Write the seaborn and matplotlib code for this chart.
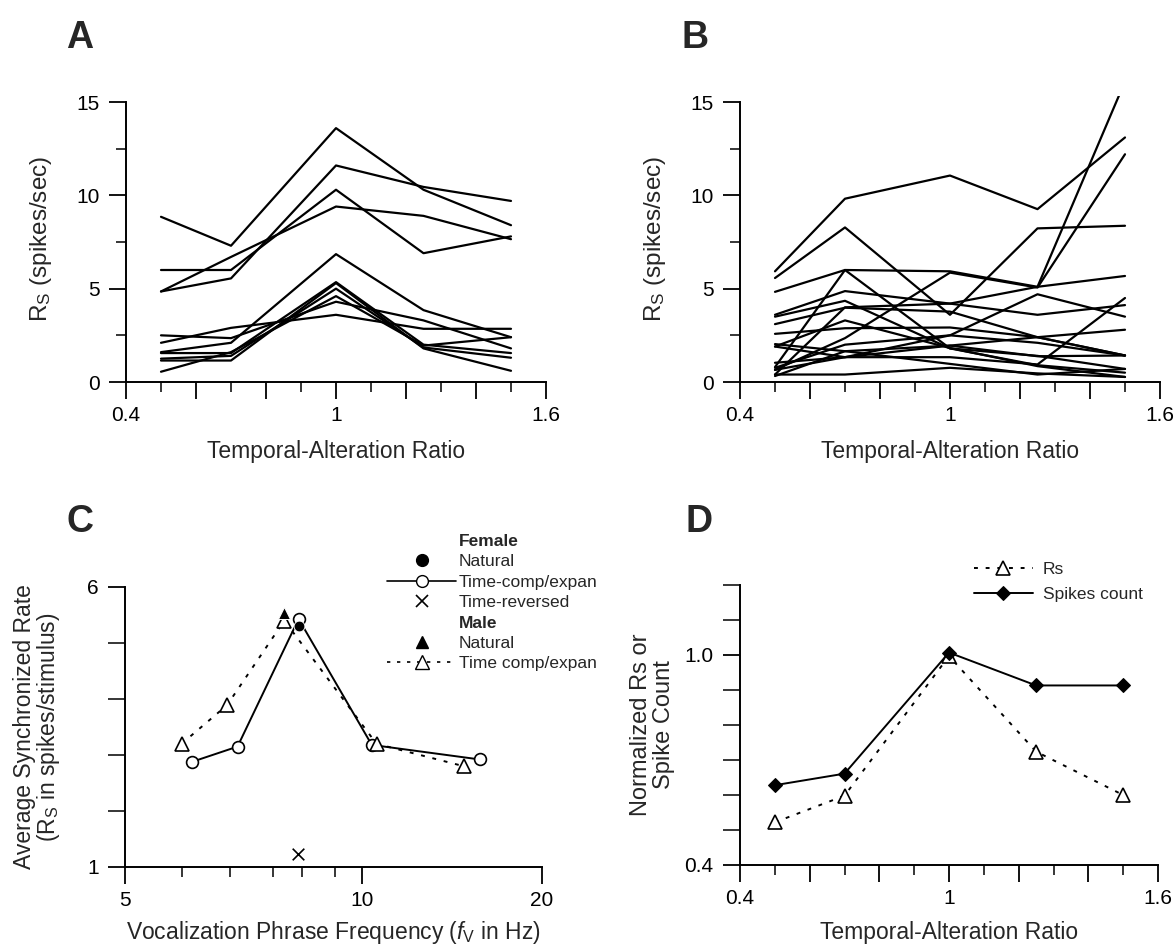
# Four-panel figure: rate vs temporal-alteration ratio (A, B),
# synchronized rate vs phrase frequency (C), normalized Rs / spike count (D)
import numpy as np
import pandas as pd
import seaborn as sns
import matplotlib
matplotlib.use("Agg")
import matplotlib.pyplot as plt
from matplotlib.lines import Line2D
from matplotlib.ticker import FixedLocator, NullFormatter, FixedFormatter

sns.set_theme(style="ticks")
plt.rcParams["font.family"] = ["Liberation Sans", "DejaVu Sans"]
plt.rcParams["mathtext.fontset"] = "custom"
plt.rcParams["mathtext.rm"] = "Liberation Sans"
plt.rcParams["mathtext.it"] = "Liberation Sans:italic"

# ---- data -------------------------------------------------------------
ratios = [0.5, 0.7, 1.0, 1.25, 1.5]

# panel A: one row per unit, Rs at each ratio
rs_a = [
    [8.85, 7.3, 13.6, 10.3, 8.4],
    [4.85, 5.55, 11.6, 10.45, 9.7],
    [6.0, 6.0, 10.3, 6.9, 7.8],
    [4.85, 6.7, 9.4, 8.9, 7.65],
    [1.6, 2.1, 6.85, 3.85, 2.4],
    [2.5, 2.35, 4.3, 3.3, 1.8],
    [2.1, 2.9, 3.6, 2.85, 2.85],
    [1.55, 1.55, 5.35, 2.0, 1.55],
    [1.25, 1.4, 5.0, 1.85, 1.3],
    [1.15, 1.15, 5.3, 1.8, 0.6],
    [0.55, 1.6, 4.6, 1.95, 2.4],
]

# panel B
rs_b = [
    [5.93, 9.82, 11.06, 9.26, 13.1],
    [5.57, 8.28, 3.6, 8.23, 8.37],
    [4.83, 6.0, 5.93, 5.1, 16.1],
    [0.65, 2.35, 5.86, 5.06, 12.2],
    [0.4, 4.0, 4.2, 5.1, 5.68],
    [3.6, 4.87, 4.2, 3.6, 4.12],
    [3.5, 4.35, 1.8, 1.4, 0.7],
    [0.8, 6.0, 1.8, 0.9, 0.5],
    [3.1, 3.98, 3.77, 2.4, 1.42],
    [2.58, 2.88, 2.92, 2.4, 2.8],
    [2.03, 1.65, 1.95, 2.4, 1.42],
    [1.9, 3.3, 1.82, 0.85, 0.27],
    [1.03, 1.33, 2.5, 4.7, 3.5],
    [0.76, 2.0, 2.5, 2.1, 1.42],
    [0.65, 1.33, 1.33, 0.94, 4.5],
    [0.4, 0.4, 0.76, 0.46, 0.27],
    [0.32, 1.65, 0.97, 0.4, 0.7],
    [1.9, 1.33, 1.95, 1.38, 1.42],
]

# panel C
fem_freq = [6.09, 6.95, 8.31, 10.39, 15.75]
fem_rs = [2.88, 3.15, 5.43, 3.18, 2.92]
fem_nat_freq = [8.31]
fem_nat_rs = [5.31]
rev_freq = [8.3]
rev_rs = [1.23]
male_freq = [5.9, 6.74, 7.97, 10.58, 14.8]
male_rs = [3.2, 3.89, 5.4, 3.2, 2.8]
male_nat_freq = [7.97]
male_nat_rs = [5.53]

# panel D
norm_rs = [0.522, 0.598, 0.997, 0.724, 0.60]
norm_count = [0.628, 0.661, 1.007, 0.913, 0.913]


def to_long(rows):
    recs = []
    for u, row in enumerate(rows):
        for r, v in zip(ratios, row):
            recs.append({"unit": u, "ratio": r, "rate": v})
    return pd.DataFrame(recs)


W, H = 1175, 948
fig = plt.figure(figsize=(W / 100, H / 100), dpi=100)
FS_TICK, FS_LAB = 15, 16.5


def add_ax(left, right, top, bottom):
    return fig.add_axes([left / W, 1 - bottom / H, (right - left) / W, (bottom - top) / H])


def letter(x, y, s):
    # x = left edge, y = baseline, in pixels from the top-left corner
    fig.text(x / W, 1 - y / H, s, fontsize=27, fontweight="bold", va="baseline")


def style_ratio_x(ax, pad):
    ax.set_xlim(0.4, 1.6)
    ax.xaxis.set_major_locator(FixedLocator([0.4, 0.6, 0.8, 1.0, 1.2, 1.4, 1.6]))
    ax.xaxis.set_major_formatter(FixedFormatter(["0.4", "", "", "1", "", "", "1.6"]))
    ax.xaxis.set_minor_locator(FixedLocator([0.5, 0.7, 0.9, 1.1, 1.3, 1.5]))
    ax.set_xlabel("Temporal-Alteration Ratio", fontsize=FS_LAB, labelpad=pad)


def common(ax):
    sns.despine(ax=ax)
    for s in ("left", "bottom"):
        ax.spines[s].set_linewidth(1.4)
        ax.spines[s].set_color("black")
    ax.tick_params(which="major", length=12, width=1.3, labelsize=FS_TICK, colors="black")
    ax.tick_params(which="minor", length=7, width=1.1, colors="black")
    ax.tick_params(axis="y", which="major", pad=7)
    ax.tick_params(axis="x", which="major", pad=5)
    ax.grid(False)


# ---- A and B ------------------------------------------------------------
YTOP = 15.3
for rows, (l, r), let, lx in ((rs_a, (126, 546), "A", 66), (rs_b, (740, 1160), "B", 681)):
    ax = add_ax(l, r, 382 - 280 * YTOP / 15, 382)
    sns.lineplot(data=to_long(rows), x="ratio", y="rate", units="unit", estimator=None,
                 color="black", lw=1.6, ax=ax, legend=False)
    style_ratio_x(ax, 11)
    ax.set_ylim(0, YTOP)
    ax.spines["left"].set_bounds(0, 15)
    ax.yaxis.set_major_locator(FixedLocator([0, 5, 10, 15]))
    ax.yaxis.set_minor_locator(FixedLocator([2.5, 7.5, 12.5]))
    ax.set_ylabel(r"R$_\mathrm{S}$ (spikes/sec)", fontsize=FS_LAB + 1, labelpad=16)
    common(ax)
    letter(lx, 48, let)

# ---- C ------------------------------------------------------------------
L5, L10 = np.log2(5), np.log2(10)


def fwd(f):
    lf = np.log2(np.clip(np.asarray(f, dtype=float), 1e-6, None))
    return np.where(lf < L10, (lf - L5) * 710.0, 710.0 + (lf - L10) * 540.0)


def inv(p):
    p = np.asarray(p, dtype=float)
    return np.where(p < 710.0, 5 * 2 ** (p / 710.0), 10 * 2 ** ((p - 710.0) / 540.0))


axc = add_ax(125, 542, 587, 867)
axc.set_xscale("function", functions=(fwd, inv))
sns.lineplot(x=fem_freq, y=fem_rs, color="black", lw=1.4, marker="o", ms=8.5,
             mfc="white", mec="black", mew=1.2, ax=axc, sort=False)
sns.lineplot(x=male_freq, y=male_rs, color="black", lw=1.4, ls=(0, (2, 4)), marker="^",
             ms=9.5, mfc="white", mec="black", mew=1.2, ax=axc, sort=False)
sns.scatterplot(x=fem_nat_freq, y=fem_nat_rs, color="black", marker="o", s=60, ax=axc, zorder=5)
sns.scatterplot(x=male_nat_freq, y=male_nat_rs, color="black", marker="^", s=75, ax=axc, zorder=5)
sns.scatterplot(x=rev_freq, y=rev_rs, color="black", marker="x", s=70, linewidth=1.2, ax=axc)
axc.set_xlim(5, 20)
axc.set_ylim(1, 6)
axc.xaxis.set_major_locator(FixedLocator([5, 10, 20]))
axc.xaxis.set_major_formatter(FixedFormatter(["5", "10", "20"]))
axc.xaxis.set_minor_locator(FixedLocator([5.9, 6.8, 7.7, 8.4, 9.25]))
axc.xaxis.set_minor_formatter(NullFormatter())
axc.yaxis.set_major_locator(FixedLocator([1, 6]))
axc.yaxis.set_minor_locator(FixedLocator([2, 3, 4, 5]))
axc.set_xlabel(r"Vocalization Phrase Frequency ($\mathit{f}_\mathrm{V}$ in Hz)",
               fontsize=FS_LAB, labelpad=7)
axc.set_ylabel("Average Synchronized Rate\n(R$_\\mathrm{S}$ in spikes/stimulus)",
               fontsize=FS_LAB, labelpad=18, linespacing=0.95)
common(axc)
axc.tick_params(axis="y", which="minor", length=12)

hnd = [
    Line2D([], [], ls="none"),
    Line2D([], [], ls="none", marker="o", color="black", ms=8.5),
    Line2D([], [], ls="-", color="black", lw=1.2, marker="o", mfc="white", ms=8.5),
    Line2D([], [], ls="none", marker="x", color="black", ms=9, mew=1.2),
    Line2D([], [], ls="none"),
    Line2D([], [], ls="none", marker="^", color="black", ms=9),
    Line2D([], [], ls=(0, (2, 4)), color="black", lw=1.2, marker="^", mfc="white", ms=9.5),
]
labs = ["Female", "Natural", "Time-comp/expan", "Time-reversed", "Male", "Natural", "Time comp/expan"]
leg = axc.legend(hnd, labs, loc="upper left", bbox_to_anchor=(380 / W, 1 - 527 / H),
                 bbox_transform=fig.transFigure, frameon=False, fontsize=12.5,
                 handlelength=4.0, handletextpad=0.15, labelspacing=0.3, borderaxespad=0)
for i in (0, 4):
    leg.get_texts()[i].set_fontweight("bold")
letter(66, 532, "C")

# ---- D ------------------------------------------------------------------
axd = add_ax(740, 1158, 585, 865)
sns.lineplot(x=ratios, y=norm_rs, color="black", lw=1.4, ls=(0, (2, 4)), marker="^", ms=9.5,
             mfc="white", mec="black", mew=1.2, ax=axd, sort=False, label="Rs")
sns.lineplot(x=ratios, y=norm_count, color="black", lw=1.4, marker="D", ms=7.5,
             mfc="black", mec="black", ax=axd, sort=False, label="Spikes count")
style_ratio_x(axd, 10)
axd.set_ylim(0.4, 1.2)
axd.yaxis.set_major_locator(FixedLocator([0.4, 1.0]))
axd.yaxis.set_major_formatter(FixedFormatter(["0.4", "1.0"]))
axd.yaxis.set_minor_locator(FixedLocator([0.5, 0.6, 0.7, 0.8, 0.9, 1.1, 1.2]))
axd.set_ylabel("Normalized Rs or\nSpike Count", fontsize=FS_LAB + 0.5, labelpad=7, linespacing=1.05)
common(axd)
axd.tick_params(axis="y", which="minor", length=12)
axd.legend(loc="upper left", bbox_to_anchor=(967 / W, 1 - 555 / H), bbox_transform=fig.transFigure,
           frameon=False, fontsize=12.5, handlelength=3.4, handletextpad=0.55,
           labelspacing=0.55, borderaxespad=0)
letter(685, 532, "D")

fig.savefig("out.png", dpi=100)
